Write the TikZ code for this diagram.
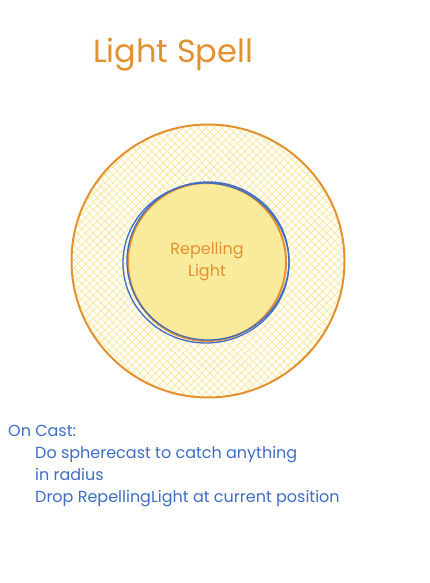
\documentclass[tikz,border=0pt]{standalone}
\usepackage{fontspec}
\setmainfont{Poppins}
\usetikzlibrary{patterns.meta}
\definecolor{spellorange}{HTML}{E3912F}
\definecolor{spellyellow}{HTML}{FAEB9C}
\definecolor{hatchyellow}{HTML}{FAE8A0}
\definecolor{castblue}{HTML}{3D6DC4}
\tikzset{
  ring/.style={circle, draw=spellorange, line width=2pt, inner sep=0pt},
  hatch/.style={preaction={pattern={Lines[angle=45,distance=5.5pt,line width=0.9pt]}, pattern color=hatchyellow},
                pattern={Lines[angle=-45,distance=5.5pt,line width=0.9pt]}, pattern color=hatchyellow},
  sketch/.style={draw=castblue, line width=1.3pt},
  note/.style={text=castblue, font=\fontsize{16}{22}\selectfont, anchor=base west, inner sep=0pt}
}
\begin{document}
\begin{tikzpicture}[x=1pt,y=-1pt]
    \useasboundingbox (0,0) rectangle (429,583);

    \node[text=spellorange, font=\fontsize{32}{38}\selectfont] (title) at (173,55) {Light Spell};

    \node[ring, hatch, minimum size=273pt] (aura) at (208,261) {};
    \node[ring, fill=spellyellow, minimum size=158pt] (core) at (207,262) {};

    % blue scribble round the core
    \draw[sketch] (core.center) ++(1,-1) circle[x radius=81pt, y radius=79pt];
    \draw[sketch] (core.center) ++(-1,1) circle[x radius=83pt, y radius=80pt];

    \node[text=spellorange, align=center, font=\fontsize{16}{22}\selectfont] (label) at (core.center) {Repelling\\Light};

    \node[note] (cast) at (8,436) {On Cast:};
    \node[note] (step1) at (35,458) {Do spherecast to catch anything};
    \node[note] (step2) at (35,480) {in radius};
    \node[note] (step3) at (35,502) {Drop RepellingLight at current position};
\end{tikzpicture}
\end{document}
